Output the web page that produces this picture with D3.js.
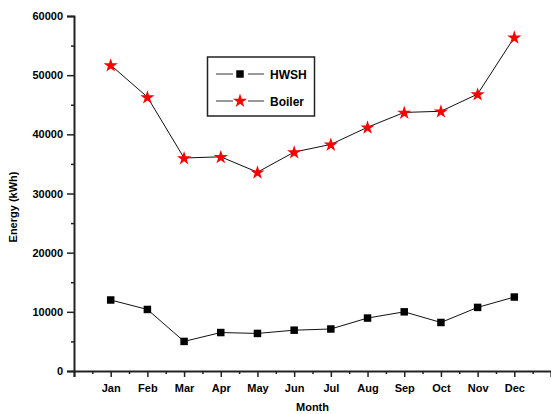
<!DOCTYPE html>
<html>
<head>
<meta charset="utf-8">
<script src="https://cdn.jsdelivr.net/npm/d3@7"></script>
<style>
  html, body { margin: 0; padding: 0; background: #fff; }
  svg { display: block; }
  text { font-family: "Liberation Sans", Arial, sans-serif; font-weight: bold; fill: #000; }
</style>
</head>
<body>
<svg id="chart" width="551" height="414"></svg>
<script>
// Monthly energy use (kWh)
const months = ["Jan", "Feb", "Mar", "Apr", "May", "Jun", "Jul", "Aug", "Sep", "Oct", "Nov", "Dec"];
const hwsh   = [12000, 10400, 5000, 6500, 6350, 6900, 7100, 8950, 10000, 8200, 10750, 12500];
const boiler = [51700, 46300, 36000, 36200, 33600, 37000, 38300, 41200, 43700, 43900, 46800, 56400];
const yTicks = [0, 10000, 20000, 30000, 40000, 50000, 60000];
const seriesNames = ["HWSH", "Boiler"];

const svg = d3.select("#chart");
const margin = { left: 74, right: 0, top: 16, bottom: 43 };
const W = 551, H = 414;

const x = d3.scaleLinear().domain([0, 13]).range([margin.left, W - margin.right]);
const y = d3.scaleLinear().domain([0, 60000]).range([H - margin.bottom, margin.top]);

// y axis: major ticks every 10000, minor every 5000
const yAxis = svg.append("g").attr("transform", `translate(${margin.left},0)`);
yAxis.call(d3.axisLeft(y).tickValues(d3.range(5000, 60000, 10000)).tickSize(3).tickFormat(""));
yAxis.call(g => g.select(".domain").remove());
const yMajor = svg.append("g").attr("transform", `translate(${margin.left},0)`)
  .call(d3.axisLeft(y).tickValues(yTicks).tickSize(7).tickPadding(4).tickFormat(d3.format("d")));
yMajor.selectAll("text").style("font-size", "11px").style("font-family", "Liberation Sans, Arial, sans-serif").attr("font-weight", "bold");

// x axis: major ticks on months, minor ticks at half months
const xMinor = svg.append("g").attr("transform", `translate(0,${y(0)})`)
  .call(d3.axisBottom(x).tickValues(d3.range(0.5, 13, 1)).tickSize(3).tickFormat(""));
xMinor.select(".domain").remove();
const xMajor = svg.append("g").attr("transform", `translate(0,${y(0)})`)
  .call(d3.axisBottom(x).tickValues(d3.range(0, 14, 1)).tickSize(6).tickPadding(7)
    .tickFormat(d => (d >= 1 && d <= 12) ? months[d - 1] : ""));
xMajor.selectAll("text").style("font-size", "11px").style("font-family", "Liberation Sans, Arial, sans-serif").attr("font-weight", "bold");

svg.selectAll(".domain").attr("stroke", "#222").attr("stroke-width", 2);
svg.selectAll(".tick line").attr("stroke", "#222").attr("stroke-width", 1.5);
svg.selectAll(".tick text").attr("fill", "#000");

// axis titles
svg.append("text").attr("x", x(6.5)).attr("y", 411).attr("text-anchor", "middle")
  .style("font-size", "11px").text("Month");
svg.append("text").attr("transform", "translate(17,207) rotate(-90)").attr("text-anchor", "middle")
  .style("font-size", "11px").text("Energy (kWh)");

const line = d3.line().x((d, i) => x(i + 1)).y(d => y(d));
const star = d3.symbol().type(d3.symbolStar).size(62);
const square = d3.symbol().type(d3.symbolSquare).size(56);

// HWSH series
svg.append("path").datum(hwsh).attr("d", line).attr("fill", "none").attr("stroke", "#111").attr("stroke-width", 1);
svg.selectAll(".sq").data(hwsh).join("path").attr("class", "sq")
  .attr("d", square).attr("transform", (d, i) => `translate(${x(i + 1)},${y(d)})`)
  .attr("fill", "#000");

// Boiler series
svg.append("path").datum(boiler).attr("d", line).attr("fill", "none").attr("stroke", "#111").attr("stroke-width", 1);
svg.selectAll(".st").data(boiler).join("path").attr("class", "st")
  .attr("d", star).attr("transform", (d, i) => `translate(${x(i + 1)},${y(d) + 0.5})`)
  .attr("fill", "#ff0000");

// legend
const lg = svg.append("g");
lg.append("rect").attr("x", 207.5).attr("y", 57).attr("width", 107).attr("height", 59)
  .attr("fill", "#fff").attr("stroke", "#222").attr("stroke-width", 1.5);
const rows = [{ y: 74, sym: square, fill: "#000" }, { y: 101, sym: star, fill: "#ff0000" }];
rows.forEach((r, i) => {
  lg.append("line").attr("x1", 216).attr("x2", 233).attr("y1", r.y).attr("y2", r.y).attr("stroke", "#333");
  lg.append("line").attr("x1", 248).attr("x2", 264).attr("y1", r.y).attr("y2", r.y).attr("stroke", "#333");
  lg.append("path").attr("d", r.sym).attr("transform", `translate(240,${r.y})`).attr("fill", r.fill);
  lg.append("text").attr("x", 270).attr("y", r.y + 5).style("font-size", "12px").text(seriesNames[i]);
});
</script>
</body>
</html>
